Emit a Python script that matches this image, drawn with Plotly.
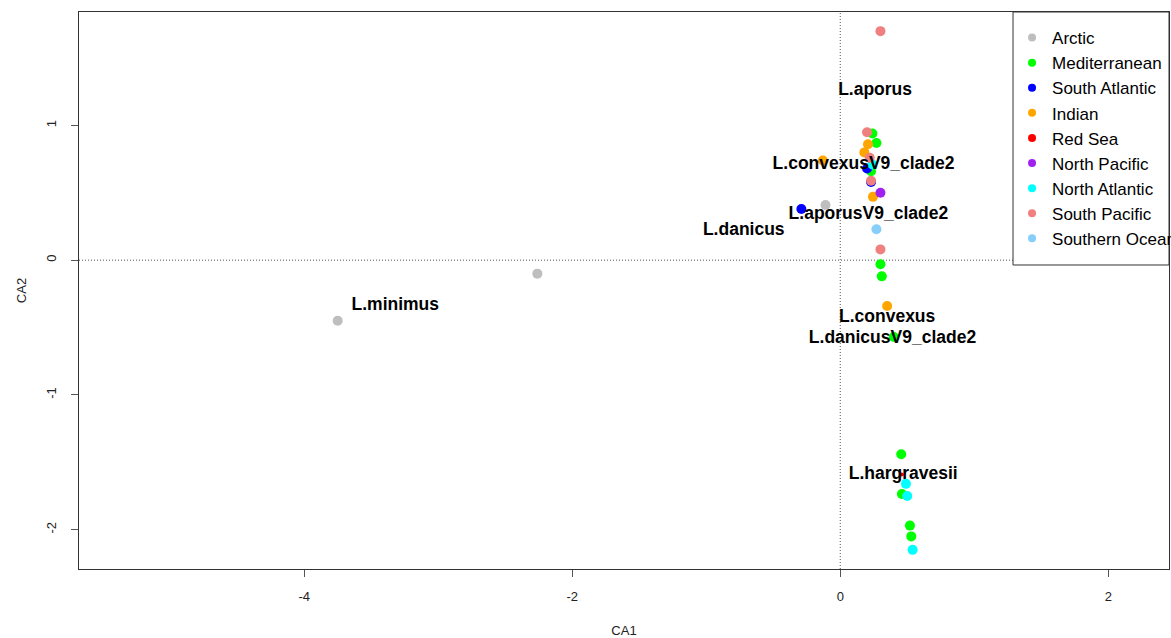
import plotly.graph_objects as go

# Sample scores on the first two correspondence-analysis axes, grouped by ocean region
regions = ["Arctic", "Mediterranean", "South Atlantic", "Indian", "Red Sea",
           "North Pacific", "North Atlantic", "South Pacific", "Southern Ocean"]
colors = ["#BEBEBE", "#00FF00", "#0000FF", "#FFA500", "#FF0000",
          "#A020F0", "#00FFFF", "#F08080", "#87CEFA"]

arctic_x = [-0.11, -2.26, -3.75]
arctic_y = [0.41, -0.10, -0.45]

med_x = [0.24, 0.27, 0.23, 0.30, 0.31, 0.40, 0.455, 0.46, 0.52, 0.53]
med_y = [0.94, 0.87, 0.66, -0.03, -0.12, -0.57, -1.44, -1.735, -1.97, -2.05]

satl_x = [-0.29, 0.20, 0.23]
satl_y = [0.38, 0.68, 0.58]

ind_x = [0.207, 0.18, -0.13, 0.244, 0.35]
ind_y = [0.86, 0.80, 0.74, 0.47, -0.34]

red_x = [0.46]
red_y = [-1.59]

npac_x = [0.30]
npac_y = [0.50]

natl_x = [0.24, 0.49, 0.50, 0.54]
natl_y = [0.71, -1.66, -1.75, -2.15]

spac_x = [0.30, 0.20, 0.22, 0.23, 0.30]
spac_y = [1.70, 0.95, 0.76, 0.59, 0.08]

socean_x = [0.27]
socean_y = [0.23]

region_x = [arctic_x, med_x, satl_x, ind_x, red_x, npac_x, natl_x, spac_x, socean_x]
region_y = [arctic_y, med_y, satl_y, ind_y, red_y, npac_y, natl_y, spac_y, socean_y]

# Species scores
species = ["L.aporus", "L.convexusV9_clade2", "L.aporusV9_clade2", "L.danicus",
           "L.minimus", "L.convexus", "L.danicusV9_clade2", "L.hargravesii"]
species_x = [0.26, 0.174, 0.21, -0.72, -3.32, 0.35, 0.39, 0.47]
species_y = [1.26, 0.71, 0.34, 0.22, -0.34, -0.43, -0.58, -1.59]

FONT = "Liberation Sans, Arial, sans-serif"

fig = go.Figure()

# Site points
for name, col, xs, ys in zip(regions, colors, region_x, region_y):
    size = 4 if name == "Red Sea" else 10
    fig.add_trace(go.Scatter(
        x=xs, y=ys, mode="markers", name=name, showlegend=False,
        marker=dict(color=col, size=size, line=dict(width=0)),
    ))

# Species labels, drawn over the points
fig.add_trace(go.Scatter(
    x=species_x, y=species_y, mode="text", text=species,
    textposition="middle center", showlegend=False,
    textfont=dict(family=FONT, size=17.5, color="black", weight="bold"),
))

# Legend keys with small dots
for i, (name, col) in enumerate(zip(regions, colors)):
    fig.add_trace(go.Scatter(
        x=[None], y=[None], mode="markers", name=name,
        legendgroup=f"g{i}", showlegend=True,
        marker=dict(color=col, size=8, line=dict(width=0)),
    ))

axis_font = dict(family=FONT, size=13, color="#222222")

fig.update_layout(
    width=1171, height=638,
    margin=dict(l=79, r=2, t=12, b=69, autoexpand=False),
    plot_bgcolor="white", paper_bgcolor="white",
    showlegend=True,
    legend=dict(
        x=0.856, y=0.9856, xanchor="left", yanchor="top",
        bgcolor="rgba(0,0,0,0)", borderwidth=0,
        font=dict(family=FONT, size=17, color="black"),
        tracegroupgap=0, itemsizing="trace",
    ),
    xaxis=dict(
        range=[-5.68, 2.453], tickvals=[-4, -2, 0, 2],
        ticktext=["-4", "-2", "0", "2"],
        showgrid=False, zeroline=False,
        showline=True, linecolor="#333333", linewidth=1, mirror=True,
        ticks="outside", ticklen=7, tickcolor="#555555",
        ticklabelstandoff=8,
        tickfont=axis_font,
        title=dict(text="CA1", font=axis_font, standoff=24),
    ),
    yaxis=dict(
        range=[-2.292, 1.842], tickvals=[-2, -1, 0, 1],
        ticktext=["-2", "-1", "0", "1"],
        showgrid=False, zeroline=False,
        showline=True, linecolor="#333333", linewidth=1, mirror=True,
        ticks="outside", ticklen=7, tickcolor="#555555",
        ticklabelstandoff=10,
        tickangle=-90, tickfont=axis_font,
        title=dict(text="CA2", font=axis_font, standoff=14),
    ),
)

# Dotted reference lines through the origin
fig.add_hline(y=0, line=dict(color="#555555", width=1, dash="1px,2px"), layer="below")
fig.add_vline(x=0, line=dict(color="#555555", width=1, dash="1px,2px"), layer="below")

# Opaque legend frame
fig.add_shape(type="rect", xref="paper", yref="paper",
              x0=0.8569, x1=1.0, y0=0.5458, y1=1.0,
              fillcolor="white", line=dict(color="#333333", width=1),
              layer="above")

fig.write_html("out.html")
